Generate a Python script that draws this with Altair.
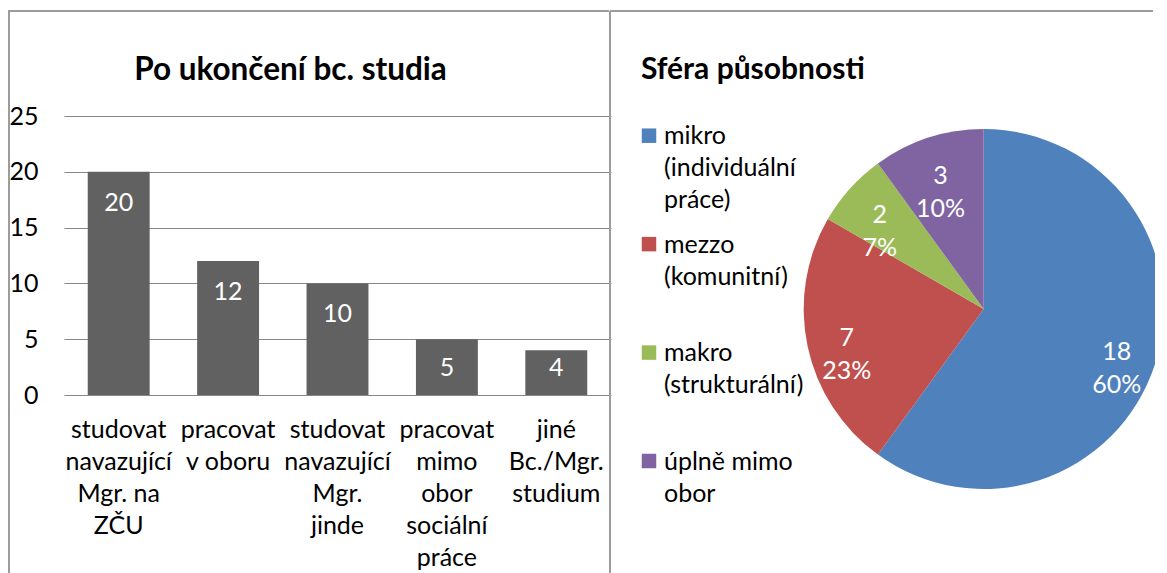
import altair as alt
import pandas as pd

# ---- data ----
bar_cats = [
    "studovat\nnavazující\nMgr. na\nZČU",
    "pracovat\nv oboru",
    "studovat\nnavazující\nMgr.\njinde",
    "pracovat\nmimo\nobor\nsociální\npráce",
    "jiné\nBc./Mgr.\nstudium",
]
bar_vals = [20, 12, 10, 5, 4]
y_ticks = [0, 5, 10, 15, 20, 25]

sfera = [
    "mikro\n(individuální\npráce)",
    "mezzo\n(komunitní)",
    "makro\n(strukturální)",
    "úplně mimo\nobor",
]
sfera_n = [18, 7, 2, 3]

left_title = "Po ukončení bc. studia"
right_title = "Sféra působnosti"

# ---- styles ----
FONT = "Lato"
FS = 25
BAR_COLOR = "#616161"
GRID = "#878787"
FRAME = "#9c9c9c"
PIE_COLORS = ["#4F81BD", "#C0504D", "#9BBB59", "#8064A2"]

bars_df = pd.DataFrame({"cat": bar_cats, "value": bar_vals})
pie_df = pd.DataFrame({"sfera": sfera, "n": sfera_n})
one = pd.DataFrame({"k": [0]})

# ---------------- left panel ----------------
LW, LH = 547, 279
x_enc = alt.X("cat:N", sort=bar_cats, axis=None,
              scale=alt.Scale(paddingInner=0.434, paddingOuter=0.217))
y_axis = alt.Axis(values=y_ticks, title=None, domain=False, ticks=False, tickSize=0,
                  labelPadding=26, labelFontSize=FS, labelFont=FONT, labelColor="black",
                  grid=True, gridColor=GRID, gridWidth=1.2)
y_scale = alt.Scale(domain=[0, 25], nice=False)

bars = alt.Chart(bars_df).mark_bar(color=BAR_COLOR).encode(
    x=x_enc,
    y=alt.Y("value:Q", scale=y_scale, axis=y_axis),
)
bar_labels = alt.Chart(bars_df).transform_calculate(
    pos="max(datum.value - 2.78, 2.4)"
).mark_text(color="white", font=FONT, fontSize=FS, baseline="middle", align="center").encode(
    x=x_enc,
    y=alt.Y("pos:Q", scale=y_scale, axis=y_axis),
    text=alt.Text("value:Q"),
)
x_labels = alt.Chart(bars_df).mark_text(
    font=FONT, fontSize=FS, color="black", baseline="top", align="center",
    lineBreak="\n", lineHeight=32
).encode(x=x_enc, y=alt.value(302), text="cat:N")

l_title = alt.Chart(one).mark_text(
    text=left_title, font=FONT, fontSize=31.5, fontWeight="bold", color="black",
    align="center", baseline="middle"
).encode(x=alt.value(226.5), y=alt.value(-45.5))

l_frame_left = alt.Chart(one).mark_rule(color=FRAME, strokeWidth=2).encode(
    x=alt.value(-55), y=alt.value(-105), y2=alt.value(470))
l_frame_top = alt.Chart(one).mark_rule(color=FRAME, strokeWidth=2).encode(
    x=alt.value(-56), x2=alt.value(545), y=alt.value(-105))

left = alt.layer(l_frame_left, l_frame_top, bars, bar_labels, x_labels, l_title).properties(
    width=LW, height=LH)

# ---------------- right panel ----------------
RW, RH = 544, 380
CX, CY, R = 372.7, 193, 180
color_enc = alt.Color("sfera:N", scale=alt.Scale(domain=sfera, range=PIE_COLORS), legend=None)
leg_y = alt.Y("sfera:N", axis=None,
              scale=alt.Scale(type="point", domain=sfera, range=[19.7, 345], padding=0))

r_frame_left = alt.Chart(one).mark_rule(color=FRAME, strokeWidth=2).encode(
    x=alt.value(-1), y=alt.value(-105), y2=alt.value(470))
r_frame_top = alt.Chart(one).mark_rule(color=FRAME, strokeWidth=2).encode(
    x=alt.value(-1), x2=alt.value(542), y=alt.value(-105))

r_title = alt.Chart(one).mark_text(
    text=right_title, font=FONT, fontSize=30, fontWeight="bold", color="black",
    align="left", baseline="middle"
).encode(x=alt.value(30), y=alt.value(-46))

leg_sq = alt.Chart(pie_df).mark_square(size=210, opacity=1).encode(
    x=alt.value(38), y=leg_y, color=color_enc)
leg_txt = alt.Chart(pie_df).mark_text(
    font=FONT, fontSize=FS, color="black", align="left", baseline="top",
    lineBreak="\n", lineHeight=32, dy=-11.5
).encode(x=alt.value(53), y=leg_y, text="sfera:N")

pie_base = alt.Chart(pie_df).transform_window(idx="row_number()").transform_joinaggregate(
    total="sum(n)"
).transform_calculate(
    lbl="datum.n + '\\n' + round(datum.n / datum.total * 100) + '%'"
)
arcs = pie_base.mark_arc(radius=R, clip=True).encode(
    theta=alt.Theta("n:Q", stack=True),
    order=alt.Order("idx:Q"),
    color=color_enc,
    x=alt.value(CX), y=alt.value(CY),
)
arc_labels = pie_base.mark_text(
    radius=140, font=FONT, fontSize=FS, color="white", align="center",
    baseline="middle", lineBreak="\n", lineHeight=33
).encode(
    theta=alt.Theta("n:Q", stack=True),
    order=alt.Order("idx:Q"),
    text="lbl:N",
    x=alt.value(CX), y=alt.value(CY),
)

right = alt.layer(r_frame_left, r_frame_top, r_title, leg_sq, leg_txt, arcs, arc_labels).properties(
    width=RW, height=RH)

chart = alt.hconcat(left, right, spacing=-2).properties(
    padding={"left": -1, "top": 2, "right": 0, "bottom": 0}
).configure(font=FONT).configure_view(strokeWidth=0, stroke="transparent")

chart.save("out.html", embed_options={"renderer": "svg", "actions": False})
